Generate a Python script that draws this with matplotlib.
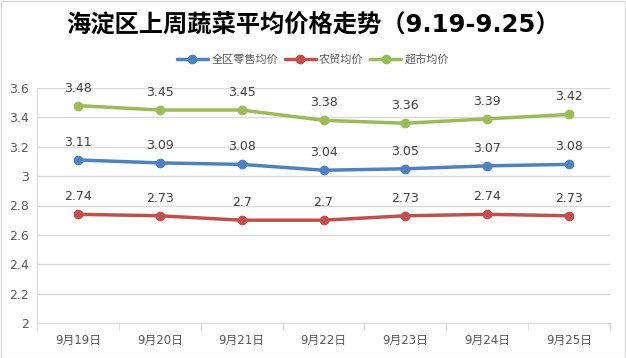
import matplotlib
matplotlib.use("Agg")
import matplotlib.pyplot as plt
from matplotlib.patches import Rectangle

plt.rcParams['font.family'] = ['Noto Sans CJK SC', 'DejaVu Sans']

categories = ["9月19日", "9月20日", "9月21日", "9月22日", "9月23日", "9月24日", "9月25日"]
series_names = ["全区零售均价", "农贸均价", "超市均价"]
retail = [3.11, 3.09, 3.08, 3.04, 3.05, 3.07, 3.08]
market = [2.74, 2.73, 2.70, 2.70, 2.73, 2.74, 2.73]
supermarket = [3.48, 3.45, 3.45, 3.38, 3.36, 3.39, 3.42]
yticks = [2, 2.2, 2.4, 2.6, 2.8, 3, 3.2, 3.4, 3.6]
ytick_labels = ["2", "2.2", "2.4", "2.6", "2.8", "3", "3.2", "3.4", "3.6"]
colors = ["#4F81BD", "#C0504D", "#9BBB59"]

W, H = 626, 358
fig = plt.figure(figsize=(W/100, H/100), dpi=100)
fig.patches.append(Rectangle((0.5/W, 0.5/H), 1 - 1.5/W, 1 - 1.5/H, transform=fig.transFigure,
                             fill=False, edgecolor="#D9D9D9", linewidth=1))

left, right, top, bottom = 37, 610, 88, 323
ax = fig.add_axes([left/W, 1 - bottom/H, (right-left)/W, (bottom-top)/H])

x = list(range(len(categories)))
for vals, name, c in zip([retail, market, supermarket], series_names, colors):
    ax.plot(x, vals, color=c, linewidth=2.5, marker="o", markersize=6, label=name,
            solid_capstyle="round")
    for xi, v in zip(x, vals):
        ax.annotate(f"{v:g}", (xi, v), xytext=(0, 8), textcoords="offset points",
                    ha="center", va="bottom", fontsize=9, color="#404040",
                    family=["DejaVu Sans"])

ax.set_xlim(-0.5, len(categories) - 0.5)
ax.set_ylim(2, 3.6)
ax.set_yticks(yticks)
ax.set_yticklabels(ytick_labels, family=["DejaVu Sans"])
ax.set_xticks(x)
ax.set_xticklabels(categories, family=["DejaVu Sans", "Noto Sans CJK SC"])
ax.set_xticks([i - 0.5 for i in range(len(categories) + 1)], minor=True)
ax.tick_params(axis="x", which="major", length=0, pad=8, labelsize=8.5, labelcolor="#595959")
ax.tick_params(axis="x", which="minor", length=5, color="#D9D9D9", direction="out")
ax.tick_params(axis="y", length=0, pad=6, labelsize=9, labelcolor="#595959")
ax.grid(axis="y", color="#D9D9D9", linewidth=1)
ax.set_axisbelow(True)
for s in ["top", "right"]:
    ax.spines[s].set_visible(False)
for s in ["left", "bottom"]:
    ax.spines[s].set_color("#D9D9D9")

fig.text(0.5, 1 - 24/H, "海淀区上周蔬菜平均价格走势（9.19-9.25）", ha="center", va="center",
         fontsize=17.5, fontweight="bold", color="#000000",
         family=["DejaVu Sans", "Noto Sans CJK SC"])

leg = fig.legend(loc="center", bbox_to_anchor=(0.5, 1 - 59/H), ncol=3, frameon=False,
                 fontsize=8, handlelength=2.8, columnspacing=0.6, handletextpad=0.3)
for t in leg.get_texts():
    t.set_color("#595959")

fig.savefig("out.png", dpi=100)
